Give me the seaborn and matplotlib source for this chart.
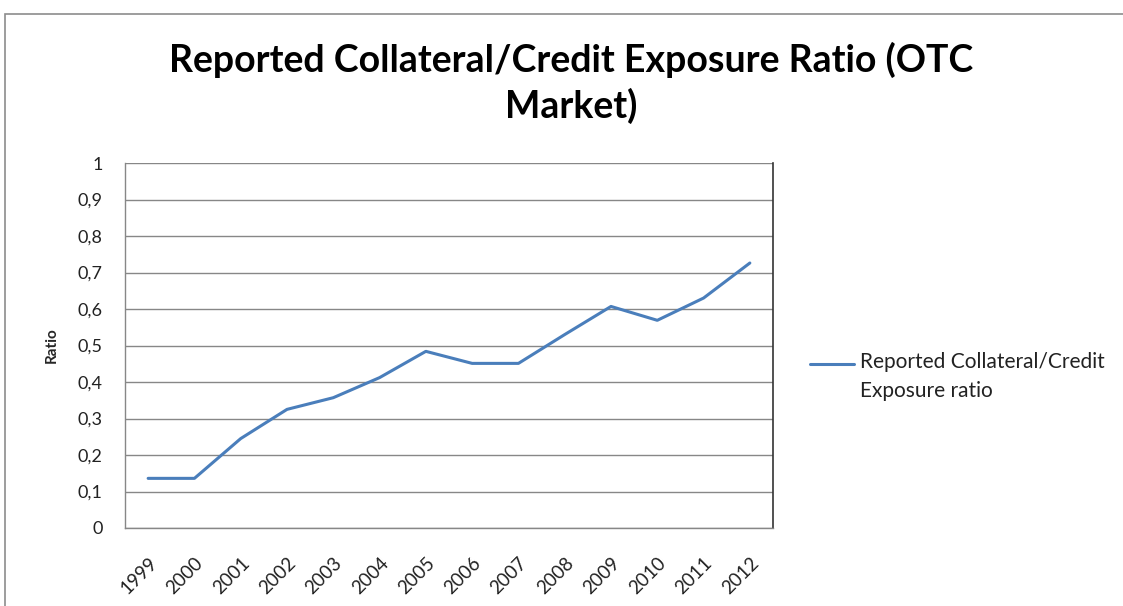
import matplotlib
matplotlib.use("Agg")
import matplotlib.pyplot as plt
import matplotlib.patches as mpatches
import numpy as np
import pandas as pd
import seaborn as sns

years = [1999, 2000, 2001, 2002, 2003, 2004, 2005, 2006, 2007, 2008, 2009, 2010, 2011, 2012]
ratio = [0.136, 0.136, 0.245, 0.325, 0.357, 0.412, 0.484, 0.451, 0.451, 0.530, 0.607, 0.569, 0.630, 0.726]
y_ticks = [0, 0.1, 0.2, 0.3, 0.4, 0.5, 0.6, 0.7, 0.8, 0.9, 1.0]
y_tick_labels = ["0", "0,1", "0,2", "0,3", "0,4", "0,5", "0,6", "0,7", "0,8", "0,9", "1"]
series_name = "Reported Collateral/Credit\nExposure ratio"
title = "Reported Collateral/Credit Exposure Ratio (OTC\nMarket)"

sns.set_theme(style="white")
plt.rcParams["font.family"] = ["Lato", "DejaVu Sans"]

df = pd.DataFrame({"Year": years, "Ratio": ratio})

fig = plt.figure(figsize=(11.23, 6.06), dpi=100)
fig.patch.set_facecolor("white")

# chart frame
frame = mpatches.Rectangle((5 / 1123, -0.05), 1.1, (606 - 14) / 606 + 0.05,
                           transform=fig.transFigure, fill=False,
                           edgecolor="#8c8c8c", linewidth=1.2)
fig.patches.append(frame)

ax = fig.add_axes([125 / 1123, (606 - 528) / 606, (773 - 125) / 1123, (528 - 163) / 606])

sns.lineplot(data=df, x="Year", y="Ratio", ax=ax, color="#4a7ebb", linewidth=2.2,
             label=series_name, legend=False)

ax.set_xlim(years[0] - 0.5, years[-1] + 0.5)
ax.set_ylim(0, 1)
ax.set_yticks(y_ticks)
ax.set_yticklabels(y_tick_labels, fontsize=13, color="#222222")
ax.set_xticks(years)
ax.set_xticklabels([str(y) for y in years], rotation=45, ha="right",
                   rotation_mode="anchor", fontsize=13.5, color="#222222")
ax.tick_params(axis="y", pad=16, length=0)
ax.tick_params(axis="x", pad=19, length=0)

ax.grid(axis="y", color="#878787", linewidth=1.0)
ax.set_axisbelow(True)
for side in ["left", "bottom"]:
    ax.spines[side].set_color("#878787")
    ax.spines[side].set_linewidth(1.0)
ax.spines["top"].set_visible(False)
ax.spines["right"].set_color("#333333")
ax.spines["right"].set_linewidth(1.2)

ax.set_xlabel("")
ax.set_ylabel("Ratio", fontsize=11, fontweight="bold", labelpad=14)

fig.text(571 / 1123, 1 - 83 / 606, title, ha="center", va="center",
         fontsize=27, fontweight="bold", linespacing=1.3, color="#000000")

leg = ax.legend(loc="center left", bbox_to_anchor=(1.045, 0.414), frameon=False,
                fontsize=15, handlelength=2.1, handletextpad=0.3, borderaxespad=0)
for t in leg.get_texts():
    t.set_color("#222222")
    t.set_linespacing(1.55)
# line sample sits beside the first text line
for ln in leg.get_lines():
    ln.set_ydata(np.asarray(ln.get_ydata()) + 10)

fig.savefig("out.png", dpi=100, facecolor="white")
